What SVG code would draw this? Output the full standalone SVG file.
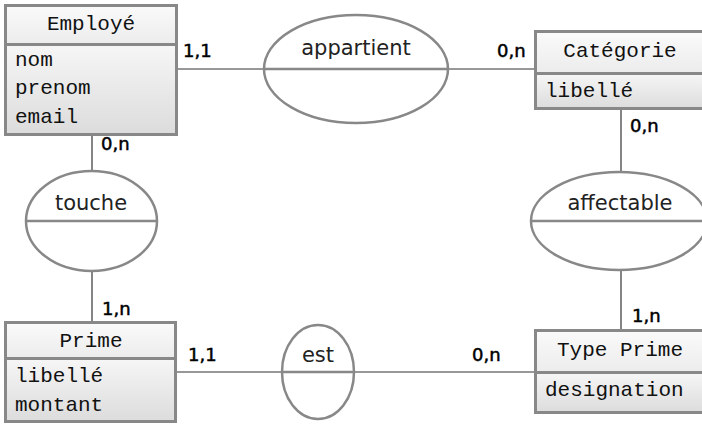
<svg xmlns="http://www.w3.org/2000/svg" width="702" height="424" viewBox="0 0 702 424">
<defs>
<linearGradient id="gh" x1="0" y1="0" x2="0" y2="1"><stop offset="0" stop-color="#fafafa"/><stop offset="1" stop-color="#ececec"/></linearGradient>
<linearGradient id="ga" x1="0" y1="0" x2="0" y2="1"><stop offset="0" stop-color="#f6f6f6"/><stop offset="1" stop-color="#dcdcdc"/></linearGradient>
</defs>
<style>
.hd{fill:url(#gh);stroke:#888;stroke-width:3}
.at{fill:url(#ga);stroke:#888;stroke-width:3}
.mono{font-family:"Liberation Mono","Courier New",monospace;font-size:21px;fill:#111}
.ctr{text-anchor:middle}
.ell{fill:#fff;stroke:#888;stroke-width:2.5}
.div{stroke:#888;stroke-width:2.5}
.rel{font-family:"DejaVu Sans",Verdana,sans-serif;font-size:21px;fill:#222;text-anchor:middle}
.card{font-family:"DejaVu Sans",Verdana,sans-serif;font-size:18px;fill:#000;stroke:#000;stroke-width:0.5}
.ln{stroke:#333;stroke-width:1.2;fill:none}
</style>
<g id="connectors">
<line class="ln" x1="177" y1="69" x2="264" y2="69"/>
<line class="ln" x1="448" y1="69" x2="535" y2="69"/>
<line class="ln" x1="92" y1="135" x2="92" y2="171"/>
<line class="ln" x1="92" y1="271" x2="92" y2="322"/>
<line class="ln" x1="621" y1="109" x2="621" y2="172"/>
<line class="ln" x1="621" y1="270" x2="621" y2="330"/>
<line class="ln" x1="176" y1="372" x2="282" y2="372"/>
<line class="ln" x1="354" y1="372" x2="535" y2="372"/>
<text class="card" x="183" y="57">1,1</text>
<text class="card" x="497" y="57">0,n</text>
<text class="card" x="101" y="150">0,n</text>
<text class="card" x="630" y="132">0,n</text>
<text class="card" x="102" y="315">1,n</text>
<text class="card" x="632" y="322">1,n</text>
<text class="card" x="188" y="361">1,1</text>
<text class="card" x="472" y="361">0,n</text>
</g>
<g id="employe">
<rect class="hd" x="5.5" y="5.5" width="171" height="39"/>
<rect class="at" x="5.5" y="44.5" width="171" height="90"/>
<text class="mono ctr" x="91" y="30">Employé</text>
<text class="mono" x="15" y="66">nom</text>
<text class="mono" x="15" y="94">prenom</text>
<text class="mono" x="15" y="123">email</text>
</g>
<g id="categorie">
<rect class="hd" x="535.5" y="31.5" width="170" height="42"/>
<rect class="at" x="535.5" y="73.5" width="170" height="35"/>
<text class="mono ctr" x="620" y="57">Catégorie</text>
<text class="mono" x="545" y="97">libellé</text>
</g>
<g id="prime">
<rect class="hd" x="5.5" y="322.5" width="170" height="36"/>
<rect class="at" x="5.5" y="358.5" width="170" height="63"/>
<text class="mono ctr" x="91" y="347">Prime</text>
<text class="mono" x="15" y="382">libellé</text>
<text class="mono" x="15" y="411">montant</text>
</g>
<g id="typeprime">
<rect class="hd" x="535.5" y="330.5" width="170" height="42"/>
<rect class="at" x="535.5" y="372.5" width="170" height="40"/>
<text class="mono ctr" x="620" y="356">Type Prime</text>
<text class="mono" x="545" y="396">designation</text>
</g>
<g id="appartient">
<ellipse class="ell" cx="356" cy="69" rx="92" ry="54"/>
<line class="div" x1="264" y1="69" x2="448" y2="69"/>
<text class="rel" x="356" y="55">appartient</text>
</g>
<g id="touche">
<ellipse class="ell" cx="91.5" cy="221" rx="65.5" ry="50"/>
<line class="div" x1="26" y1="221" x2="157" y2="221"/>
<text class="rel" x="91" y="210">touche</text>
</g>
<g id="affectable">
<ellipse class="ell" cx="619" cy="221" rx="88" ry="49"/>
<line class="div" x1="531" y1="221" x2="707" y2="221"/>
<text class="rel" x="620" y="210">affectable</text>
</g>
<g id="est">
<ellipse class="ell" cx="318" cy="372" rx="36" ry="47"/>
<line class="div" x1="282" y1="372" x2="354" y2="372"/>
<text class="rel" x="318" y="362">est</text>
</g>
</svg>
